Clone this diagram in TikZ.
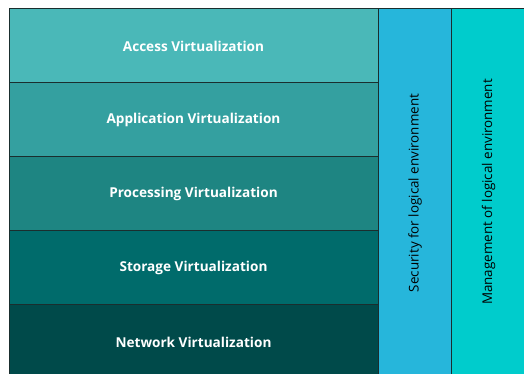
\documentclass[tikz,border=0pt]{standalone}
\usepackage{fontspec}
\setmainfont{Open Sans}
\definecolor{cAccess}{HTML}{4AB8B8}
\definecolor{cApp}{HTML}{34A0A0}
\definecolor{cProc}{HTML}{1E8582}
\definecolor{cStor}{HTML}{006B6B}
\definecolor{cNet}{HTML}{004A4A}
\definecolor{cSec}{HTML}{26B6DB}
\definecolor{cMgmt}{HTML}{00CCCC}
\definecolor{cEdge}{HTML}{1A2E2E}
\tikzset{
  layer/.style={text=white, font=\bfseries\fontsize{13.6}{15}\selectfont},
  pillar/.style={text=black, font=\fontsize{13.4}{15}\selectfont},
  band/.style={draw=cEdge, line width=0.9pt},
}
\begin{document}
\begin{tikzpicture}[x=1pt,y=-1pt]
\useasboundingbox (0,0) rectangle (524,373);
\begin{scope}
\clip (0,0) rectangle (524,373);
\fill[cSec] (378,8) rectangle (451,380);
\fill[cMgmt] (451,8) rectangle (530,380);
\draw[band] (378,8) rectangle (451,380);
\draw[band] (451,8) rectangle (530,380);
\node[pillar, rotate=90] (sec) at (415,193) {Security for logical environment};
\node[pillar, rotate=90] (mgmt) at (488.5,192) {Management of logical environment};
\fill[cAccess] (9,8) rectangle (378,82);
\fill[cApp] (9,82) rectangle (378,156);
\fill[cProc] (9,156) rectangle (378,230);
\fill[cStor] (9,230) rectangle (378,304);
\fill[cNet] (9,304) rectangle (378,380);
\draw[band] (9,8) rectangle (378,82);
\draw[band] (9,82) rectangle (378,156);
\draw[band] (9,156) rectangle (378,230);
\draw[band] (9,230) rectangle (378,304);
\draw[band] (9,304) rectangle (378,380);
\node[layer] (acc) at (193.5,46) {Access Virtualization};
\node[layer] (app) at (193.5,120) {Application Virtualization};
\node[layer] (proc) at (193.5,194) {Processing Virtualization};
\node[layer] (stor) at (193.5,268) {Storage Virtualization};
\node[layer] (net) at (193.5,342) {Network Virtualization};
\end{scope}
\end{tikzpicture}
\end{document}
